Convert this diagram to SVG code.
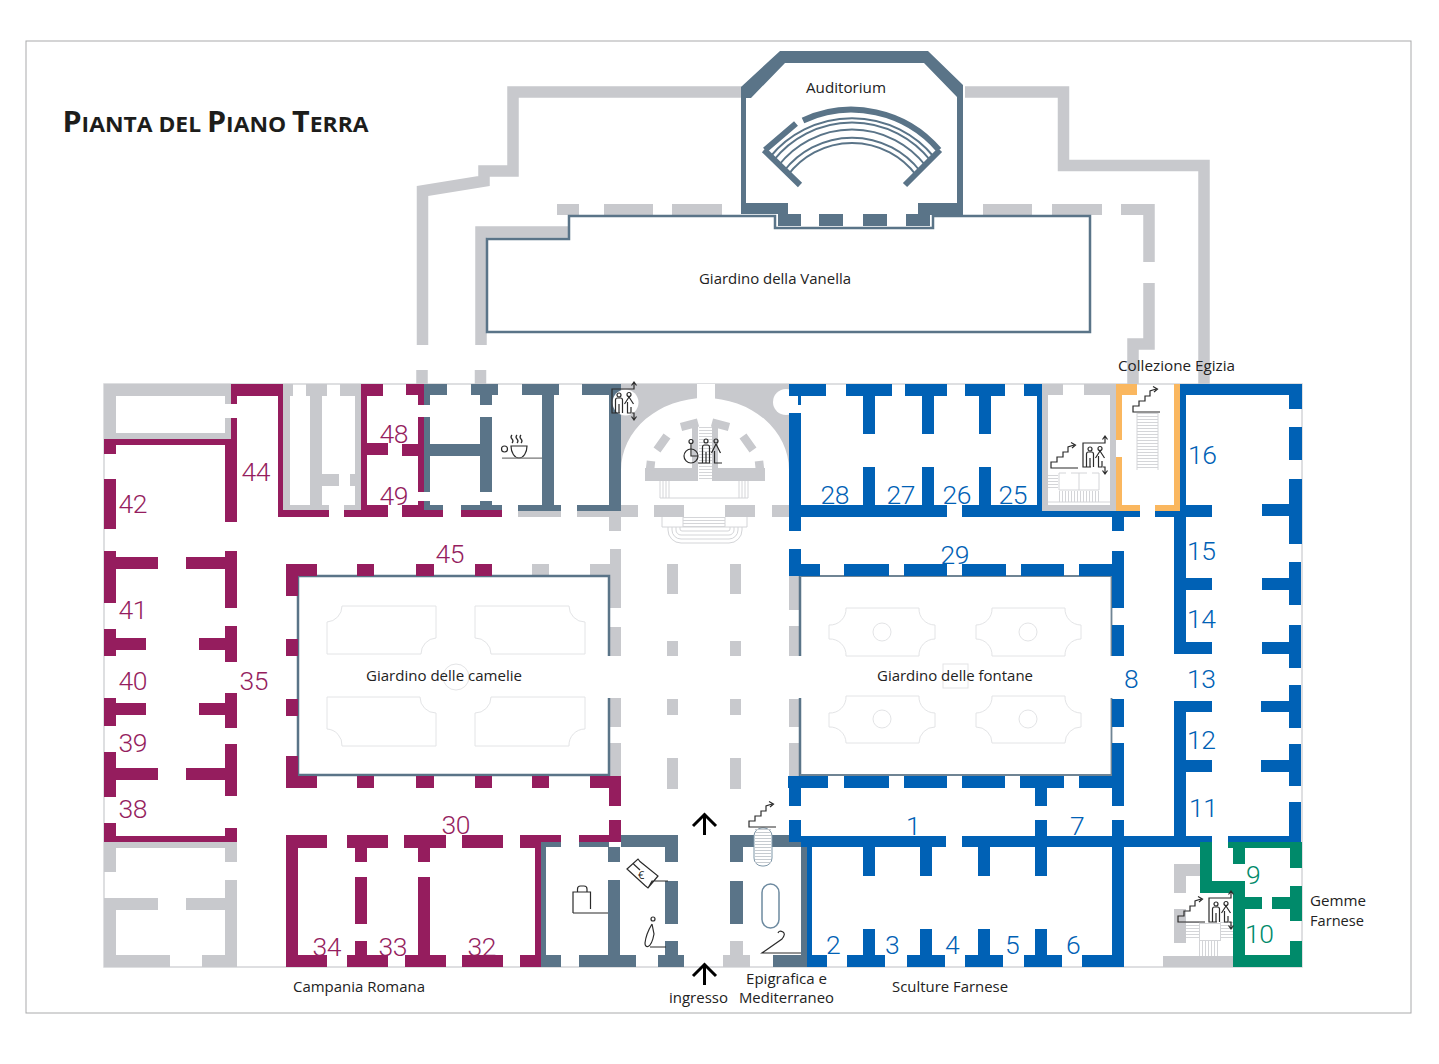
<svg xmlns="http://www.w3.org/2000/svg" width="1439" height="1064" viewBox="0 0 1439 1064">
<style>
.g{fill:#c8c9cd}.p{fill:#951d5e}.b{fill:#0061b5}.s{fill:#5a7488}.o{fill:#fab75f}.v{fill:#008a6a}
.gl{fill:none;stroke:#c8c9cd;stroke-width:11.5}
.bed{fill:none;stroke:#e3e4e6;stroke-width:1}
.thin{fill:none;stroke:#d4d5d8;stroke-width:1}
.icon{fill:none;stroke:#2b2b2b;stroke-width:1.2}
.lab{font-family:"Open Sans","Noto Sans",sans-serif;font-size:15px;fill:#222}
.n{font-family:Roboto,"Liberation Sans",Arial,sans-serif;font-weight:300;font-size:26.5px;letter-spacing:-.5px}
.np{fill:#951d5e}.nb{fill:#0061b5}.nv{fill:#008a6a}
</style>
<defs>
<g id="lift" class="icon">
<path d="M8 24H0V0H22V-6.500M19.500-3.500L22-7L24.500-3.500"/>
<circle cx="7" cy="6" r="2"/>
<path d="M3.500 24V11Q3.500 9 5.500 9H8.500Q10.500 9 10.500 11V24M7 15V24"/>
<circle cx="17" cy="5.500" r="2"/>
<path d="M17 8L12.500 15M17 8L21.500 15M15.500 13V24H19V18M20 24H22V30M19.500 27.500L22 31L24.500 27.500"/>
</g>
<g id="stair" class="icon">
<path d="M27 0H0V-6H6V-11H12V-16H17V-21L23-23M20-25.500L24.500-23L21-20"/>
</g>
</defs>
<rect x="26" y="41" width="1385" height="972" fill="#fff" stroke="#a9aaab" stroke-width="1"/>
<text x="62.500" y="132" style="font-family:'Open Sans','Noto Sans',sans-serif;font-weight:700;fill:#1d1d1b" textLength="306" lengthAdjust="spacingAndGlyphs"><tspan font-size="28">P</tspan><tspan font-size="21">IANTA DEL </tspan><tspan font-size="28">P</tspan><tspan font-size="21">IANO </tspan><tspan font-size="28">T</tspan><tspan font-size="21">ERRA</tspan></text>

<g id="outline-thin"><rect x="104" y="384" width="1198" height="583" fill="#fff" stroke="#d4d5d8" stroke-width="1.500"/></g>

<g id="grey-walls">
<path class="gl" d="M745 92H513V171H484V181L422.500 191V345M422 370V384M569 232H481V345M480.500 370V384M965 92H1063.500V165.500H1204V384M1149 204V262M1149 283V344H1133V384"/>
<rect class="g" x="557" y="204" width="22" height="11"/><rect class="g" x="604" y="204" width="49" height="11"/><rect class="g" x="672" y="204" width="50" height="11"/>
<rect class="g" x="983" y="204" width="49" height="11"/><rect class="g" x="1052" y="204" width="50" height="11"/><rect class="g" x="1121" y="204" width="33" height="11"/>
<rect class="g" x="104" y="384" width="127" height="12"/><rect class="g" x="104" y="384" width="12" height="56"/><rect class="g" x="104" y="433" width="127" height="7"/><rect class="g" x="225" y="384" width="6" height="20"/><rect class="g" x="225" y="418" width="6" height="22"/>
<rect class="g" x="283" y="384" width="10" height="12"/><rect class="g" x="283" y="384" width="7" height="126"/><rect class="g" x="283" y="505" width="46" height="6"/><rect class="g" x="306" y="384" width="21" height="12"/><rect class="g" x="310" y="384" width="12" height="122"/><rect class="g" x="322" y="474" width="17" height="12"/><rect class="g" x="340" y="384" width="21" height="12"/><rect class="g" x="355" y="384" width="6" height="126"/><rect class="g" x="350" y="474" width="11" height="12"/><rect class="g" x="344" y="505" width="17" height="6"/>
<path class="g" d="M621 384H789V470A84 72 0 0 0 621 470Z"/>
<rect class="g" x="518" y="511" width="43" height="6"/><rect class="g" x="577" y="511" width="44" height="6"/>
<rect class="g" x="621" y="505" width="17" height="12"/><rect class="g" x="654" y="505" width="30" height="12"/><rect class="g" x="725" y="505" width="30" height="12"/><rect class="g" x="772" y="505" width="17" height="12"/>
<rect class="g" x="609" y="517" width="12" height="14"/><rect class="g" x="610" y="549" width="11" height="59"/><rect class="g" x="610" y="627" width="11" height="29"/><rect class="g" x="610" y="698" width="11" height="29"/><rect class="g" x="610" y="743" width="11" height="33"/>
<rect class="g" x="532" y="564" width="17" height="12"/><rect class="g" x="590" y="564" width="20" height="12"/>
<rect class="g" x="667" y="564" width="11" height="30"/><rect class="g" x="667" y="641" width="11" height="15"/><rect class="g" x="667" y="699" width="11" height="16"/><rect class="g" x="667" y="758" width="11" height="31"/>
<rect class="g" x="730" y="564" width="11" height="30"/><rect class="g" x="730" y="641" width="11" height="15"/><rect class="g" x="730" y="699" width="11" height="16"/><rect class="g" x="730" y="758" width="11" height="31"/>
<rect class="g" x="789" y="576" width="10" height="34"/><rect class="g" x="789" y="626" width="10" height="30"/><rect class="g" x="789" y="699" width="10" height="28"/><rect class="g" x="789" y="743" width="10" height="33"/>
<rect class="g" x="1042" y="384" width="21" height="11"/><rect class="g" x="1084" y="384" width="32" height="11"/><rect class="g" x="1042" y="395" width="6" height="116"/><rect class="g" x="1110" y="395" width="6" height="116"/><rect class="g" x="1042" y="505" width="74" height="6"/>
<rect class="g" x="104" y="842" width="133" height="6"/><rect class="g" x="104" y="848" width="12" height="24"/><rect class="g" x="225" y="848" width="12" height="14"/><rect class="g" x="225" y="880" width="12" height="87"/><rect class="g" x="104" y="898" width="54" height="12"/><rect class="g" x="186" y="898" width="39" height="12"/><rect class="g" x="104" y="910" width="12" height="57"/><rect class="g" x="104" y="955" width="66" height="12"/><rect class="g" x="202" y="955" width="35" height="12"/>
<rect class="g" x="730" y="941" width="13" height="14"/><rect class="g" x="723" y="955" width="27" height="12"/>
<rect class="g" x="1174" y="864" width="26" height="12"/><rect class="g" x="1174" y="876" width="12" height="17"/><rect class="g" x="1174" y="909" width="12" height="34"/><rect class="g" x="1163" y="956" width="70" height="11"/>
</g>

<g id="atrium">
<rect x="697" y="384" width="18" height="15" fill="#fff"/>
<circle cx="786" cy="402" r="13" fill="#fff"/>
<rect class="g" x="645" y="468" width="53" height="13"/><rect class="g" x="712" y="468" width="53" height="13"/>
<rect class="g" x="692" y="425" width="6" height="45"/><rect class="g" x="712" y="425" width="6" height="45"/>
<path fill="none" stroke="#c8c9cd" stroke-width="8.500" d="M650 470L651 461M657 450L667 436M681 427L698 422.500M729 427L712 422.500M753 450L743 436M760 470L759 461"/>
<path fill="none" stroke="#d4d5d8" stroke-width="13" stroke-dasharray="1 2" d="M705.500 427V480"/>
<path class="thin" d="M660 481V498H748V481M663 481V498M666 481V498M669 481V498M739 481V498M742 481V498M745 481V498"/>
<path class="thin" d="M662 517V527H747V517M683 517V527M725 517V527"/>
<path fill="none" stroke="#d4d5d8" stroke-width="42" stroke-dasharray="1 2" d="M704 517V527"/>
<path class="thin" d="M668 527V530A13 13 0 0 0 681 543H729A13 13 0 0 0 742 530V527M672 527V530A9 9 0 0 0 681 539H729A9 9 0 0 0 738 530V527M676 527V530A5 5 0 0 0 681 535H729A5 5 0 0 0 734 530V527M680 527V529A2 2 0 0 0 682 531H728A2 2 0 0 0 730 529V527"/>
</g>

<g id="auditorium">
<path class="s" fill-rule="evenodd" d="M741 87L780 51H928L963 85V215H930V226H906V214H887V226H863V214H843V226H819V214H801V226H778V214H741ZM746 98V203H788V214H918V203H957V97L924 63H785L751 98Z"/>
<path fill="none" stroke="#5a7488" stroke-width="6" d="M765 150L796 123.500M803 120.500A115 115 0 0 1 939 150M764 150L800 185M940 150L905 185"/>
<path fill="none" stroke="#5a7488" stroke-width="2" d="M770 157A106 106 0 0 1 934 157M773.500 160.500A100 100 0 0 1 930.500 160.500M778.500 165.500A93 93 0 0 1 925.500 165.500M784 171A86 86 0 0 1 920 171M788 175A80 80 0 0 1 916 175"/>
</g>

<g id="gardens">
<path fill="#fff" stroke="#5a7488" stroke-width="2.500" d="M487 239H569V216H775V228H933V216H1090V332H487Z"/>
<path fill="#fff" d="M298 576H609V776H298Z"/>
<path fill="none" stroke="#5a7488" stroke-width="2.500" d="M609 656V576H298V775H609V698"/>
<path fill="none" stroke="#5a7488" stroke-width="2.500" d="M800 656V576M800 698V776"/>
<path fill="none" stroke="#6f8494" stroke-width="1.800" d="M800 576H1111.500V656M1111.500 698V775H800"/>
<path class="bed" d="M327 622A16 16 0 0 0 342 606H436V638A16 16 0 0 0 421 654H327Z"/>
<path class="bed" d="M585 622A16 16 0 0 1 569 606H475V638A16 16 0 0 1 491 654H585Z"/>
<path class="bed" d="M327 729A16 16 0 0 1 342 746H436V713A16 16 0 0 1 420 697H327Z"/>
<path class="bed" d="M585 729A16 16 0 0 0 569 746H475V713A16 16 0 0 0 491 697H585Z"/>
<circle class="bed" cx="456" cy="677" r="13"/>
<path class="bed" d="M846 608H919A16 16 0 0 0 935 625V639A16 16 0 0 0 919 656H846A16 16 0 0 0 829 639V625A16 16 0 0 0 846 608Z"/>
<path class="bed" d="M992 608H1065A16 16 0 0 0 1081 625V639A16 16 0 0 0 1065 656H992A16 16 0 0 0 976 639V625A16 16 0 0 0 992 608Z"/>
<path class="bed" d="M846 696H919A16 16 0 0 0 935 713V727A16 16 0 0 0 919 743H846A16 16 0 0 0 829 727V713A16 16 0 0 0 846 696Z"/>
<path class="bed" d="M992 696H1065A16 16 0 0 0 1081 713V727A16 16 0 0 0 1065 743H992A16 16 0 0 0 976 727V713A16 16 0 0 0 992 696Z"/>
<circle class="bed" cx="882" cy="632" r="9"/><circle class="bed" cx="1028" cy="632" r="9"/><circle class="bed" cx="882" cy="719" r="9"/><circle class="bed" cx="1028" cy="719" r="9"/>
<rect class="bed" x="943" y="664" width="25" height="24"/>
</g>

<g id="slate-walls" class="s">
<rect x="424" y="384" width="23" height="11"/><rect x="424" y="395" width="6" height="10"/><rect x="424" y="417" width="6" height="75"/><rect x="424" y="444" width="68" height="12"/>
<rect x="471" y="384" width="27" height="11"/><rect x="480" y="395" width="12" height="10"/><rect x="480" y="417" width="12" height="75"/><rect x="480" y="501" width="12" height="4"/>
<rect x="424" y="501" width="6" height="4"/><rect x="424" y="505" width="19" height="5"/><rect x="461" y="505" width="41" height="5"/>
<rect x="522" y="384" width="37" height="11"/><rect x="542" y="395" width="12" height="110"/><rect x="518" y="505" width="43" height="6"/>
<rect x="582" y="384" width="39" height="11"/><rect x="609" y="395" width="12" height="110"/><rect x="577" y="505" width="44" height="6"/>
<rect x="621" y="835" width="57" height="12"/><rect x="579" y="842" width="30" height="5"/><rect x="541" y="842" width="20" height="5"/><rect x="541" y="847" width="5" height="108"/>
<rect x="541" y="955" width="20" height="12"/><rect x="579" y="955" width="57" height="12"/><rect x="658" y="955" width="26" height="12"/>
<rect x="608" y="847" width="12" height="15"/><rect x="608" y="880" width="12" height="75"/>
<rect x="665" y="847" width="13" height="15"/><rect x="665" y="881" width="13" height="43"/><rect x="665" y="941" width="13" height="14"/>
<rect x="730" y="835" width="59" height="12"/><rect x="730" y="847" width="13" height="15"/><rect x="730" y="881" width="13" height="43"/>
<rect x="789" y="842" width="18" height="5"/><rect x="801" y="842" width="6" height="113"/><rect x="773" y="955" width="34" height="12"/>
</g>

<g id="plum-walls" class="p">
<rect x="231" y="384" width="52" height="12"/><rect x="231" y="396" width="6" height="8"/><rect x="231" y="418" width="6" height="22"/><rect x="225" y="439" width="12" height="83"/><rect x="104" y="439" width="133" height="6"/><rect x="104" y="445" width="12" height="9"/><rect x="104" y="479" width="12" height="50"/>
<rect x="278" y="384" width="5" height="132"/><rect x="278" y="510" width="51" height="7"/><rect x="344" y="510" width="17" height="7"/>
<rect x="361" y="384" width="22" height="12"/><rect x="361" y="396" width="6" height="114"/><rect x="367" y="443" width="21" height="12"/><rect x="361" y="505" width="27" height="12"/>
<rect x="402" y="444" width="22" height="12"/><rect x="406" y="384" width="18" height="11"/><rect x="418" y="395" width="6" height="10"/><rect x="418" y="417" width="6" height="75"/><rect x="418" y="501" width="6" height="16"/><rect x="402" y="505" width="22" height="12"/><rect x="424" y="510" width="19" height="7"/><rect x="461" y="510" width="41" height="7"/>
<rect x="104" y="551" width="12" height="52"/><rect x="104" y="629" width="12" height="27"/><rect x="104" y="698" width="12" height="28"/><rect x="104" y="752" width="12" height="45"/><rect x="104" y="823" width="12" height="19"/>
<rect x="116" y="557" width="42" height="12"/><rect x="116" y="638" width="30" height="12"/><rect x="116" y="703" width="30" height="12"/><rect x="116" y="768" width="42" height="12"/>
<rect x="225" y="551" width="12" height="57"/><rect x="225" y="626" width="12" height="36"/><rect x="225" y="693" width="12" height="35"/><rect x="225" y="744" width="12" height="52"/><rect x="225" y="828" width="12" height="14"/>
<rect x="186" y="557" width="39" height="12"/><rect x="199" y="638" width="26" height="12"/><rect x="199" y="703" width="26" height="12"/><rect x="186" y="768" width="39" height="12"/>
<rect x="104" y="836" width="133" height="6"/>
<rect x="286" y="564" width="31" height="12"/><rect x="286" y="564" width="12" height="32"/><rect x="286" y="639" width="12" height="17"/><rect x="286" y="699" width="12" height="17"/><rect x="286" y="756" width="12" height="32"/>
<rect x="357" y="564" width="17" height="12"/><rect x="416" y="564" width="18" height="12"/><rect x="475" y="564" width="17" height="12"/>
<rect x="286" y="776" width="31" height="12"/><rect x="357" y="776" width="17" height="12"/><rect x="416" y="776" width="18" height="12"/><rect x="475" y="776" width="17" height="12"/><rect x="532" y="776" width="17" height="12"/><rect x="590" y="776" width="31" height="12"/>
<rect x="609" y="776" width="12" height="30"/><rect x="609" y="820" width="12" height="22"/>
<rect x="286" y="835" width="12" height="132"/><rect x="286" y="835" width="41" height="13"/><rect x="347" y="835" width="41" height="13"/><rect x="404" y="835" width="42" height="13"/><rect x="462" y="835" width="41" height="13"/><rect x="520" y="835" width="41" height="7"/><rect x="520" y="842" width="21" height="6"/><rect x="579" y="835" width="42" height="7"/>
<rect x="355" y="848" width="12" height="14"/><rect x="355" y="877" width="12" height="47"/><rect x="355" y="941" width="12" height="14"/>
<rect x="418" y="848" width="12" height="14"/><rect x="418" y="877" width="12" height="78"/>
<rect x="535" y="842" width="6" height="125"/>
<rect x="286" y="955" width="41" height="12"/><rect x="347" y="955" width="41" height="12"/><rect x="405" y="955" width="41" height="12"/><rect x="462" y="955" width="41" height="12"/><rect x="520" y="955" width="21" height="12"/>
</g>

<g id="blue-walls" class="b">
<rect x="789" y="384" width="37" height="12"/><rect x="846" y="384" width="46" height="12"/><rect x="905" y="384" width="42" height="12"/><rect x="965" y="384" width="40" height="12"/><rect x="1024" y="384" width="18" height="12"/>
<rect x="798" y="396" width="3" height="9"/><rect x="789" y="413" width="12" height="118"/>
<rect x="863" y="396" width="12" height="38"/><rect x="922" y="396" width="12" height="38"/><rect x="979" y="396" width="12" height="38"/>
<rect x="863" y="467" width="12" height="38"/><rect x="922" y="467" width="12" height="38"/><rect x="979" y="467" width="12" height="38"/>
<rect x="1037" y="396" width="5" height="109"/>
<rect x="789" y="505" width="158" height="12"/><rect x="962" y="505" width="80" height="12"/><rect x="1042" y="511" width="98" height="6"/><rect x="1155" y="511" width="31" height="6"/>
<rect x="1112" y="517" width="12" height="14"/><rect x="1180" y="384" width="122" height="11"/><rect x="1180" y="395" width="6" height="116"/><rect x="1180" y="505" width="32" height="12"/>
<rect x="1289" y="395" width="13" height="14"/><rect x="1289" y="427" width="13" height="33"/><rect x="1289" y="479" width="13" height="65"/><rect x="1262" y="504" width="27" height="12"/>
<rect x="1174" y="505" width="12" height="149"/><rect x="1186" y="578" width="26" height="12"/><rect x="1186" y="642" width="26" height="12"/>
<rect x="1174" y="701" width="12" height="141"/><rect x="1186" y="701" width="26" height="11"/><rect x="1186" y="760" width="26" height="12"/>
<rect x="1289" y="562" width="12" height="43"/><rect x="1289" y="625" width="12" height="43"/><rect x="1289" y="685" width="12" height="43"/><rect x="1289" y="744" width="12" height="42"/><rect x="1289" y="802" width="12" height="40"/>
<rect x="1262" y="578" width="27" height="12"/><rect x="1262" y="642" width="27" height="12"/><rect x="1261" y="701" width="28" height="11"/><rect x="1261" y="760" width="28" height="12"/>
<rect x="789" y="549" width="12" height="27"/><rect x="789" y="564" width="31" height="12"/><rect x="844" y="564" width="45" height="12"/><rect x="904" y="564" width="43" height="12"/><rect x="962" y="564" width="44" height="12"/><rect x="1021" y="564" width="43" height="12"/><rect x="1079" y="564" width="45" height="12"/>
<rect x="1112" y="551" width="12" height="57"/><rect x="1112" y="625" width="12" height="31"/><rect x="1112" y="699" width="12" height="28"/><rect x="1112" y="743" width="12" height="63"/>
<rect x="788" y="776" width="40" height="12"/><rect x="844" y="776" width="45" height="12"/><rect x="904" y="776" width="43" height="12"/><rect x="962" y="776" width="43" height="12"/><rect x="1020" y="776" width="44" height="12"/><rect x="1079" y="776" width="45" height="12"/>
<rect x="789" y="788" width="12" height="18"/><rect x="789" y="820" width="12" height="22"/><rect x="1035" y="788" width="12" height="18"/><rect x="1035" y="820" width="12" height="56"/><rect x="1112" y="820" width="12" height="147"/>
<rect x="801" y="836" width="145" height="11"/><rect x="962" y="836" width="250" height="11"/><rect x="1228" y="836" width="73" height="6"/>
<rect x="863" y="847" width="12" height="29"/><rect x="920" y="847" width="12" height="29"/><rect x="978" y="847" width="12" height="29"/>
<rect x="807" y="847" width="5" height="108"/>
<rect x="863" y="929" width="12" height="26"/><rect x="920" y="929" width="12" height="26"/><rect x="978" y="929" width="12" height="26"/><rect x="1035" y="929" width="12" height="26"/>
<rect x="807" y="955" width="20" height="12"/><rect x="847" y="955" width="38" height="12"/><rect x="907" y="955" width="38" height="12"/><rect x="965" y="955" width="38" height="12"/><rect x="1024" y="955" width="38" height="12"/><rect x="1082" y="955" width="42" height="12"/>
</g>

<g id="orange-walls" class="o">
<rect x="1116" y="384" width="21" height="11"/><rect x="1116" y="395" width="6" height="45"/><rect x="1116" y="457" width="6" height="48"/><rect x="1116" y="505" width="24" height="6"/><rect x="1155" y="505" width="25" height="6"/><rect x="1174" y="384" width="6" height="122"/>
</g>

<g id="green-walls" class="v">
<rect x="1200" y="842" width="12" height="39"/><rect x="1200" y="881" width="45" height="12"/><rect x="1233" y="881" width="12" height="86"/><rect x="1245" y="897" width="17" height="12"/><rect x="1272" y="897" width="30" height="12"/><rect x="1290" y="886" width="12" height="35"/><rect x="1290" y="941" width="12" height="26"/><rect x="1233" y="955" width="69" height="12"/>
<rect x="1228" y="842" width="74" height="6"/><rect x="1233" y="848" width="12" height="16"/><rect x="1290" y="848" width="12" height="20"/>
</g>

<g id="stairs-details">
<path fill="none" stroke="#d4d5d8" stroke-width="21" stroke-dasharray="1 2" d="M1147.500 413V470"/>
<path class="thin" d="M1137 413V470M1158 413V470"/>
<path fill="none" stroke="#d4d5d8" stroke-width="10" stroke-dasharray="1 2" d="M1053 475V490"/>
<path class="thin" d="M1059 473H1066M1071 473H1087M1092 473H1099M1059 473V490H1099V473M1079 473V490M1048 502H1110"/>
<path fill="none" stroke="#d4d5d8" stroke-width="11" stroke-dasharray="1 2" d="M1059 496.500H1101"/>
<path fill="none" stroke="#d4d5d8" stroke-width="13" stroke-dasharray="1 2" d="M1192.500 922V940M1226.500 922V940"/>
<path fill="none" stroke="#d4d5d8" stroke-width="16" stroke-dasharray="1 2" d="M1199 948H1220"/>
<rect x="1199.500" y="923.500" width="21" height="17" fill="#fff" stroke="#d4d5d8"/>
<rect x="754" y="828" width="18" height="38" rx="8" fill="#fff" stroke="#7f97a8" stroke-width="1"/>
<path fill="none" stroke="#c6cbd0" stroke-width="16" stroke-dasharray="1 2" d="M763 829V864"/>
<rect x="762" y="884" width="17" height="44" rx="8.500" fill="none" stroke="#6d8aa0" stroke-width="1.500"/>
</g>

<g id="icons">
<circle cx="625.500" cy="402.500" r="13" fill="#fff"/>
<use href="#lift" x="612" y="389"/>
<use href="#lift" x="1083" y="443"/>
<use href="#lift" x="1209" y="898"/>
<use href="#stair" x="1133" y="412"/>
<use href="#stair" x="1051" y="468"/>
<use href="#stair" x="749" y="827"/>
<use href="#stair" x="1178" y="922"/>
<g class="icon">
<circle cx="691" cy="456" r="7"/><circle cx="691" cy="441.500" r="2"/><path d="M691 444V456H698"/>
<circle cx="706" cy="441" r="2"/><path d="M702.500 463V447Q702.500 445 704.500 445H707.500Q709.500 445 709.500 447V463H698M706 452V463"/>
<circle cx="716" cy="441" r="2"/><path d="M716 444L711.500 453M716 444L720.500 453M714.500 451V463H722"/>
<path d="M511 446H527A8 12 0 0 1 511 446ZM512 435Q510 437 512 439T512 443M517 435Q515 437 517 439T517 443M521 435Q519 437 521 439T521 443"/>
<circle cx="504.500" cy="449" r="3"/>
<path d="M502 458.200H542" stroke="#777"/>
<path d="M627 869L638 859L640 861.500L658 876L648 888L645 885.500ZM648 888L652 881H668M633.500 864L640 870"/>
<path d="M573 913V892H590.500V909M577.500 892V889A3 3 0 0 1 580.500 886H584A3 3 0 0 1 587 889V892M573 913H608"/>
<circle cx="653" cy="919" r="2"/>
<path d="M652 924Q646 934 645 943Q645 947 648 946.500Q652 945 654 934L652 924M650 947H666"/>
<path d="M801 953H762L782 939Q786 934 783 932Q779 930 778 933"/>
</g>
<text x="638" y="879" style="font-family:'Open Sans',sans-serif;font-size:11px;fill:#222">€</text>
<path fill="none" stroke="#000" stroke-width="3" d="M704.500 835V815M693 826L704.500 814.500L716 826M704.500 985V965M693 976L704.500 964.500L716 976"/>
</g>

<g id="labels">
<text class="lab" x="806" y="92.500" textLength="80" lengthAdjust="spacingAndGlyphs">Auditorium</text>
<text class="lab" x="699" y="284" textLength="152" lengthAdjust="spacingAndGlyphs">Giardino della Vanella</text>
<text class="lab" x="1118" y="370.500" textLength="117" lengthAdjust="spacingAndGlyphs">Collezione Egizia</text>
<text class="lab" x="366" y="681" textLength="156" lengthAdjust="spacingAndGlyphs">Giardino delle camelie</text>
<text class="lab" x="877" y="681" textLength="156" lengthAdjust="spacingAndGlyphs">Giardino delle fontane</text>
<text class="lab" x="293" y="992" textLength="132" lengthAdjust="spacingAndGlyphs">Campania Romana</text>
<text class="lab" x="669" y="1003" textLength="59" lengthAdjust="spacingAndGlyphs">ingresso</text>
<text class="lab" x="746" y="984" textLength="81" lengthAdjust="spacingAndGlyphs">Epigrafica e</text>
<text class="lab" x="739" y="1003" textLength="95" lengthAdjust="spacingAndGlyphs">Mediterraneo</text>
<text class="lab" x="892" y="992" textLength="116" lengthAdjust="spacingAndGlyphs">Sculture Farnese</text>
<text class="lab" x="1310" y="906" textLength="56" lengthAdjust="spacingAndGlyphs">Gemme</text>
<text class="lab" x="1310" y="926" textLength="54" lengthAdjust="spacingAndGlyphs">Farnese</text>
</g>
<g id="room-numbers" class="n">
<g class="np">
<text x="118.500" y="513">42</text><text x="241.500" y="481">44</text><text x="379.500" y="443">48</text><text x="379.500" y="505">49</text><text x="435.500" y="563">45</text><text x="118.500" y="619">41</text><text x="118.500" y="690">40</text><text x="239.500" y="690">35</text><text x="118.500" y="752">39</text><text x="118.500" y="818">38</text><text x="441.500" y="834">30</text><text x="312.500" y="956">34</text><text x="378.500" y="956">33</text><text x="467.500" y="956">32</text>
</g>
<g class="nb">
<text x="820.500" y="504">28</text><text x="886.500" y="504">27</text><text x="942.500" y="504">26</text><text x="998.500" y="504">25</text><text x="940.500" y="564">29</text><text x="1188" y="464">16</text><text x="1187" y="560">15</text><text x="1187" y="628">14</text><text x="1187" y="688">13</text><text x="1187" y="749">12</text><text x="1189" y="817">11</text><text x="1124" y="688">8</text><text x="906" y="835">1</text><text x="1070" y="835">7</text><text x="826" y="954">2</text><text x="885" y="954">3</text><text x="945" y="954">4</text><text x="1005" y="954">5</text><text x="1066" y="954">6</text>
</g>
<g class="nv"><text x="1246" y="884">9</text><text x="1245" y="943">10</text></g>
</g>
</svg>
